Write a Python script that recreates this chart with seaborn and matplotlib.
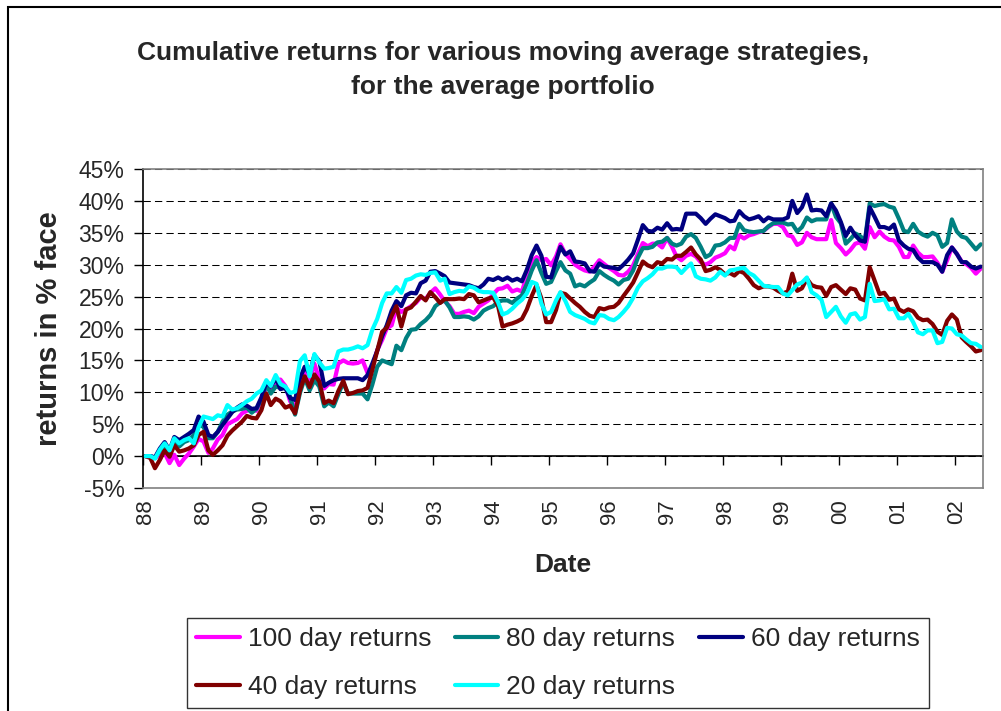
import numpy as np
import pandas as pd
import matplotlib
matplotlib.use("Agg")
import matplotlib.pyplot as plt
import matplotlib.dates as mdates
from matplotlib.ticker import MultipleLocator, PercentFormatter, NullFormatter
from matplotlib.patches import Rectangle
from matplotlib.lines import Line2D
import seaborn as sns

# monthly observations, Jan 1988 .. Jun 2002 (cumulative return, %)
months = pd.date_range("1988-01-01", periods=174, freq="MS") + pd.Timedelta(days=14)

ret_100 = [0, 0, -0.3, 0.3, 0.5, -1.1, 0.2, -1.4, -0.4, 0.4, 1.5, 2.7, 2.3, 0.5, 1.2, 2.6, 3.3, 5.0, 5.4, 5.8,
           6.7, 7.1, 7.3, 7.1, 8.8, 10.8, 10.3, 11.8,
           12.0, 11.0, 8.6, 7.5, 11.3, 13.3, 12.0, 14.5, 12.0, 10.6, 11.3, 11.2, 14.5, 15.0, 14.6, 14.5,
           14.6, 15.0, 13.0, 14.0, 16.6, 18.2, 20.0, 20.5, 23.2, 22.6, 23.0, 23.5,
           24.0, 24.9, 24.6, 25.6, 26.3, 25.3, 24.3, 23.5, 22.3, 22.3, 22.6, 22.8, 22.4, 23.4, 23.9, 24.4,
           25.4, 26.2, 26.3, 26.7, 25.8, 26.1, 25.8, 28.3, 30.4, 31.2, 30.7, 30.9, 29.9, 31.3,
           33.2, 31.7, 30.9, 30.0, 29.5, 29.1, 28.9, 29.7, 30.7, 30.1, 29.5, 29.0, 28.4, 28.3, 28.9, 29.9,
           31.7, 33.4, 32.9, 33.3, 33.3, 32.7, 34.2, 32.8, 31.3, 30.7, 31.4, 31.7, 31.3,
           30.4, 30.0, 30.4, 31.1, 31.4, 31.8, 32.9, 32.4, 34.6, 34.1, 34.6, 34.8, 35.1, 35.3, 35.9, 36.4,
           36.4, 35.9, 34.6, 34.4, 33.1, 33.5, 35.0, 34.3, 34.0, 34.0, 34.0, 37.0, 33.4,
           32.6, 31.6, 32.3, 33.3, 33.5, 32.5, 35.9, 34.3, 35.2, 34.4, 33.9, 33.8, 32.8, 31.2, 31.2, 33.0,
           31.9, 31.2, 31.2, 31.3, 30.3, 28.9, 30.7, 32.7, 31.7, 30.5, 30.1, 29.5, 28.6, 29.4]

ret_80 = [0, 0, -0.3, 0.8, 1.7, 0.7, 2.5, 1.5, 2.2, 2.5, 3.3, 4.9, 4.6, 2.8, 2.8, 3.8, 5.4, 6.5, 7.0, 7.3,
          7.4, 7.6, 6.8, 7.4, 8.9, 11.2, 9.8, 10.9,
          10.7, 10.7, 9.3, 6.5, 9.9, 12.2, 10.3, 11.9, 10.9, 7.8, 8.4, 7.8, 9.7, 11.5, 9.8, 9.8,
          9.8, 9.8, 8.9, 11.2, 14.0, 15.0, 14.7, 14.4, 17.3, 16.6, 18.5, 19.8,
          19.9, 20.7, 21.3, 22.1, 23.5, 24.1, 24.4, 23.3, 21.8, 21.8, 21.9, 21.8, 21.4, 21.9, 22.8, 23.2,
          23.5, 24.2, 24.4, 24.4, 24.0, 24.7, 25.2, 27.0, 29.1, 30.7, 28.7, 27.0, 27.3, 29.0,
          30.4, 29.1, 28.6, 26.6, 26.9, 26.6, 27.2, 27.7, 29.0, 28.4, 27.9, 27.5, 26.9, 27.6, 27.8, 29.1,
          31.1, 32.6, 32.6, 32.8, 33.5, 33.6, 34.2, 33.3, 33.0, 33.3, 34.4, 34.8, 34.2,
          32.8, 31.2, 31.6, 33.0, 33.1, 33.5, 34.2, 34.2, 36.4, 35.4, 35.2, 35.1, 35.2, 35.3, 36.0, 36.5,
          36.6, 36.6, 36.3, 36.4, 35.2, 35.9, 37.4, 36.8, 37.1, 37.1, 37.1, 39.6, 37.5,
          36.5, 33.3, 34.0, 34.9, 34.5, 33.8, 39.6, 39.2, 39.4, 39.5, 39.1, 38.9, 37.2, 35.3, 35.1, 36.4,
          35.2, 34.7, 34.4, 35.0, 34.6, 32.8, 33.4, 37.1, 35.2, 34.4, 34.2, 33.3, 32.4, 33.2]

ret_60 = [0, 0, -0.2, 1.2, 2.2, 0.9, 3.0, 2.5, 3.0, 3.5, 4.1, 6.2, 5.4, 3.3, 3.0, 3.8, 4.9, 5.9, 6.9, 7.6,
          8.1, 7.9, 7.4, 7.5, 9.2, 11.6, 10.9, 12.2,
          10.5, 10.7, 9.1, 8.8, 12.2, 14.0, 12.9, 15.8, 14.9, 11.0, 11.5, 11.9, 12.1, 12.2, 12.2, 12.2,
          12.2, 11.9, 12.7, 14.5, 16.5, 18.8, 20.5, 22.8, 24.3, 23.5, 25.2, 25.6,
          25.5, 27.1, 27.5, 28.9, 29.0, 28.6, 28.2, 27.2, 27.1, 27.0, 26.9, 26.8, 26.5, 26.3, 26.9, 27.8,
          27.6, 28.0, 27.6, 28.0, 27.5, 27.8, 27.4, 29.2, 31.5, 33.0, 31.4, 28.1, 28.0, 30.6,
          32.8, 31.6, 32.1, 30.5, 30.4, 30.2, 29.0, 28.9, 30.2, 29.7, 29.6, 29.5, 29.3, 30.0, 30.8, 31.8,
          33.9, 36.2, 35.3, 35.2, 35.8, 35.5, 36.5, 35.5, 35.6, 35.5, 38.0, 38.0, 38.0,
          37.3, 36.4, 37.2, 37.9, 37.6, 37.3, 36.8, 36.9, 38.4, 37.6, 37.1, 37.3, 37.6, 36.8, 37.4, 37.1,
          37.1, 37.1, 37.4, 40.0, 38.1, 39.0, 41.0, 38.5, 38.6, 38.5, 37.6, 39.6, 38.5,
          36.7, 34.5, 35.8, 34.6, 33.8, 33.6, 39.0, 37.5, 35.9, 35.9, 35.6, 36.3, 33.8, 33.0, 32.5, 32.3,
          31.1, 30.4, 30.4, 30.4, 30.0, 28.9, 31.5, 32.7, 31.7, 30.4, 30.4, 29.7, 29.4, 29.7]

ret_40 = [0, -0.3, -1.9, -0.6, 0.9, -0.1, 1.7, 0.7, 0.9, 1.2, 1.7, 3.3, 3.8, 0.9, 0.2, 0.9, 1.7, 3.2, 4.0, 4.7,
          5.4, 6.3, 6.0, 5.9, 7.2, 9.8, 8.0, 9.0,
          8.6, 7.6, 7.9, 6.7, 10.3, 12.5, 10.8, 12.8, 11.7, 8.3, 8.7, 8.3, 10.2, 11.8, 9.7, 9.9,
          10.2, 10.3, 10.7, 13.5, 16.5, 19.5, 20.1, 22.0, 23.5, 20.3, 23.0, 23.3,
          24.2, 25.1, 24.4, 25.7, 24.9, 24.0, 24.6, 24.6, 24.6, 24.7, 24.6, 25.4, 25.2, 24.1, 24.4, 24.7,
          24.9, 23.5, 20.3, 20.6, 20.8, 21.1, 21.5, 23.0, 25.1, 26.8, 24.7, 21.0, 21.0, 22.9,
          25.6, 25.4, 24.7, 24.0, 23.4, 22.6, 22.0, 21.8, 23.2, 23.0, 23.3, 23.4, 24.0, 25.1, 26.1, 27.2,
          28.8, 30.5, 29.9, 29.6, 30.4, 30.2, 30.9, 30.8, 31.4, 31.4, 32.0, 32.7, 31.6,
          30.8, 29.0, 29.2, 29.6, 29.2, 28.5, 28.7, 28.3, 29.0, 28.7, 27.8, 26.8, 26.3, 26.6, 26.6, 26.4,
          25.9, 25.5, 25.8, 28.6, 25.9, 26.3, 27.8, 26.8, 26.5, 26.4, 25.1, 26.5, 26.8,
          26.1, 25.4, 26.3, 26.1, 24.7, 24.4, 29.6, 27.5, 25.4, 25.6, 24.5, 24.7, 23.0, 22.6, 23.0, 22.7,
          21.7, 21.3, 21.4, 20.7, 19.5, 19.0, 21.2, 22.2, 21.4, 18.6, 17.9, 17.2, 16.4, 16.6]

ret_20 = [0, 0, -0.4, 1.0, 2.0, 0.9, 2.8, 2.0, 2.5, 2.8, 2.0, 4.5, 6.2, 6.0, 5.8, 6.4, 6.2, 8.0, 7.3, 7.5,
          8.0, 8.6, 9.0, 9.8, 10.3, 11.9, 11.0, 12.7,
          11.3, 10.9, 9.9, 10.1, 14.9, 15.8, 12.5, 16.0, 14.7, 13.7, 13.8, 14.0, 16.4, 16.7, 16.7, 16.9,
          17.2, 16.9, 17.4, 19.8, 21.5, 24.0, 25.5, 25.5, 26.5, 25.6, 27.6, 27.8,
          28.3, 28.5, 28.4, 28.7, 28.8, 27.5, 27.8, 25.4, 25.7, 25.9, 25.8, 26.6, 26.4, 25.9, 25.7, 25.7,
          25.6, 24.1, 22.2, 22.5, 23.1, 23.9, 24.5, 25.5, 27.3, 27.0, 23.9, 22.2, 22.6, 24.4,
          25.7, 24.3, 22.6, 22.1, 21.8, 21.5, 21.0, 20.8, 22.1, 22.0, 21.5, 21.3, 21.8, 22.6, 23.5, 24.8,
          26.4, 27.4, 27.9, 28.5, 29.4, 29.4, 29.7, 29.7, 29.6, 28.7, 29.5, 30.2, 28.2,
          27.8, 27.7, 27.5, 28.0, 28.9, 28.3, 29.1, 29.2, 29.4, 29.5, 28.7, 28.3, 27.5, 26.7, 26.6, 26.5,
          26.5, 25.5, 25.2, 26.0, 26.9, 27.2, 28.0, 25.7, 25.2, 24.5, 21.8, 22.6, 23.4,
          21.9, 20.9, 22.2, 22.4, 21.4, 21.8, 27.0, 24.3, 24.4, 24.6, 23.0, 23.1, 21.6, 21.6, 22.3, 21.0,
          19.4, 19.1, 19.7, 19.7, 17.7, 17.9, 20.1, 20.0, 19.1, 18.9, 18.3, 17.7, 17.6, 17.1]

series_names = ["100 day returns", "80 day returns", "60 day returns", "40 day returns", "20 day returns"]
series_colors = ["#FF00FF", "#008080", "#000080", "#800000", "#00FFFF"]

df = pd.DataFrame({"Date": months,
                   series_names[0]: ret_100,
                   series_names[1]: ret_80,
                   series_names[2]: ret_60,
                   series_names[3]: ret_40,
                   series_names[4]: ret_20})
long_df = df.melt(id_vars="Date", var_name="strategy", value_name="ret")

sns.set_style("white")
plt.rcParams["font.family"] = ["Liberation Sans", "DejaVu Sans"]
plt.rcParams["axes.unicode_minus"] = False

fig = plt.figure(figsize=(10.01, 7.11), dpi=100)
ax = fig.add_axes([143.2 / 1001, 1 - 488 / 711, 840.1 / 1001, 319 / 711])

sns.lineplot(data=long_df, x="Date", y="ret", hue="strategy", hue_order=series_names,
             palette=series_colors, linewidth=3.0, legend=False, ax=ax)

# axes ranges / ticks
ax.set_ylim(-5, 45)
ax.set_xlim(pd.Timestamp("1988-01-01"), pd.Timestamp("2002-07-01"))
ax.yaxis.set_major_locator(MultipleLocator(5))
ax.yaxis.set_major_formatter(PercentFormatter(decimals=0))
ax.tick_params(axis="y", length=6.5, width=1, direction="out", color="black",
               labelsize=16.5, pad=7, left=True)

ax.xaxis.set_major_locator(mdates.YearLocator())
ax.xaxis.set_major_formatter(NullFormatter())
ax.xaxis.set_minor_locator(mdates.MonthLocator(bymonth=1, bymonthday=15))
ax.xaxis.set_minor_formatter(mdates.DateFormatter("%y"))
ax.tick_params(axis="x", which="both", length=0, labelsize=16, pad=8)
for lab in ax.get_xticklabels(minor=True):
    lab.set_rotation(90)

# dashed gridlines
ax.set_axisbelow(True)
ax.yaxis.grid(True, color="black", linewidth=0.75, linestyle=(0, (7, 4)))
ax.xaxis.grid(False)

for side in ["top", "right", "bottom"]:
    ax.spines[side].set_color("#808080")
    ax.spines[side].set_linewidth(1.2)
ax.spines["left"].set_color("black")
ax.spines["left"].set_linewidth(1.2)

# category axis crossing at 0%
zero_frac = (0 - (-5)) / (45 - (-5))
sec = ax.secondary_xaxis(zero_frac)
sec.xaxis.set_major_locator(mdates.YearLocator())
sec.xaxis.set_major_formatter(NullFormatter())
sec.tick_params(axis="x", length=6.5, width=1, direction="out", color="black")
sec.spines["bottom"].set_color("black")
sec.spines["bottom"].set_linewidth(1.2)

ax.set_xlabel("Date", fontsize=19, fontweight="bold")
ax.xaxis.set_label_coords(0.5, -0.205)
ax.set_ylabel("returns in % face", fontsize=21, fontweight="bold")
ax.yaxis.set_label_coords(-0.095, 0.5)

fig.text(0.502, 1 - 70 / 711, "Cumulative returns for various moving average strategies,\nfor the average portfolio",
         ha="center", va="center", fontsize=19, fontweight="bold", linespacing=1.5)

# legend, filled row by row as in the source
handles = [Line2D([], [], color=c, lw=3.0) for c in series_colors]
order = [0, 3, 1, 4, 2]
leg = fig.legend([handles[k] for k in order], [series_names[k] for k in order],
                 ncol=3, loc="upper left", bbox_to_anchor=(187 / 1001, 1 - 618 / 711),
                 fontsize=19, frameon=True, fancybox=False, edgecolor="black",
                 handlelength=1.65, handletextpad=0.3, columnspacing=0.9,
                 labelspacing=0.9, borderpad=0.35, borderaxespad=0)
leg.get_frame().set_linewidth(1.0)

# outer chart-area border
fig.patches.append(Rectangle((8 / 1001, -0.05), 1.1, 1 - 6.5 / 711 + 0.05, transform=fig.transFigure,
                             fill=False, edgecolor="black", linewidth=1.5))

fig.savefig("out.png", dpi=100)
